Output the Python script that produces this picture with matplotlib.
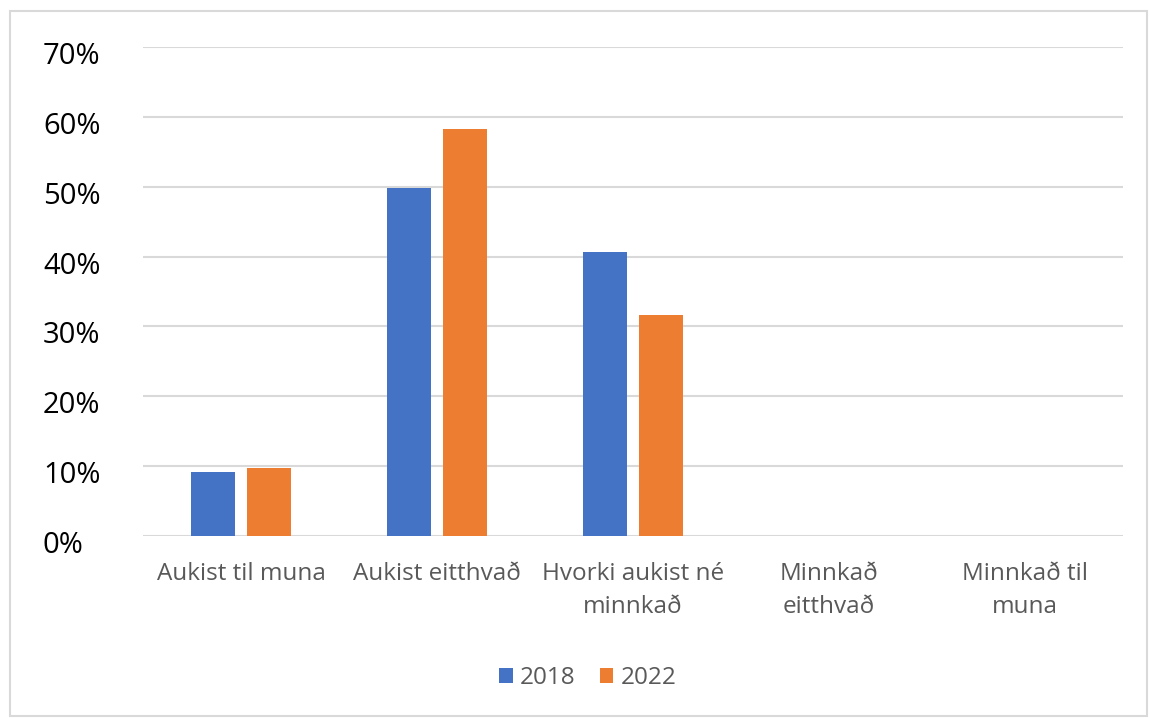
import matplotlib
matplotlib.use('Agg')
import matplotlib.pyplot as plt
import numpy as np
from matplotlib.patches import Rectangle
from matplotlib.ticker import PercentFormatter
from matplotlib.transforms import ScaledTranslation

plt.rcParams['font.family'] = ['Open Sans', 'DejaVu Sans']

categories = ['Aukist til muna', 'Aukist eitthvað', 'Hvorki aukist né\nminnkað',
              'Minnkað\neitthvað', 'Minnkað til\nmuna']
years = ['2018', '2022']
values_2018 = [9.1, 49.8, 40.6, 0, 0]
values_2022 = [9.8, 58.3, 31.6, 0, 0]
yticks = [0, 10, 20, 30, 40, 50, 60, 70]

blue = '#4472C4'
orange = '#ED7D31'
grid_col = '#D9D9D9'
text_col = '#595959'

W, H = 1150, 718
fig = plt.figure(figsize=(W / 100, H / 100), dpi=100)
fig.patch.set_facecolor('white')

# thin grey frame round the whole chart
fig.patches.append(Rectangle((10 / W, 2 / H), 1137 / W, 705 / H, transform=fig.transFigure,
                             fill=False, edgecolor='#D9D9D9', linewidth=1.5))

ax = fig.add_axes([143 / W, 1 - 536 / H, 980 / W, 489 / H])

x = np.arange(len(categories))
bw = 0.224
off = 0.141
ax.bar(x - off, values_2018, bw, color=blue, label=years[0], zorder=3)
ax.bar(x + off, values_2022, bw, color=orange, label=years[1], zorder=3)

ax.set_xlim(-0.5, len(categories) - 0.5)
ax.set_ylim(0, 70)
ax.set_yticks(yticks)
ax.yaxis.set_major_formatter(PercentFormatter(decimals=0))
ax.grid(axis='y', color=grid_col, linewidth=1.5, zorder=0)
for s in ax.spines.values():
    s.set_visible(False)
ax.tick_params(axis='both', length=0)
ax.tick_params(axis='y', labelsize=21, labelcolor='black', pad=72)
# percent labels sit left-aligned and a little below their gridlines
shift = ScaledTranslation(0, -6 / 100, fig.dpi_scale_trans)
for lab in ax.get_yticklabels():
    lab.set_horizontalalignment('left')
    lab.set_transform(lab.get_transform() + shift)

ax.set_xticks(x)
ax.set_xticklabels(categories, fontsize=17.5, color=text_col, linespacing=1.5)
ax.tick_params(axis='x', pad=19)

leg = fig.legend(loc='center', bbox_to_anchor=(588 / W, 1 - 678 / H), ncol=2, frameon=False,
                 fontsize=17.5, handlelength=0.55, handleheight=0.55, handletextpad=0.3,
                 columnspacing=1.0, labelcolor=text_col)

fig.savefig('out.png', dpi=100, facecolor='white')
